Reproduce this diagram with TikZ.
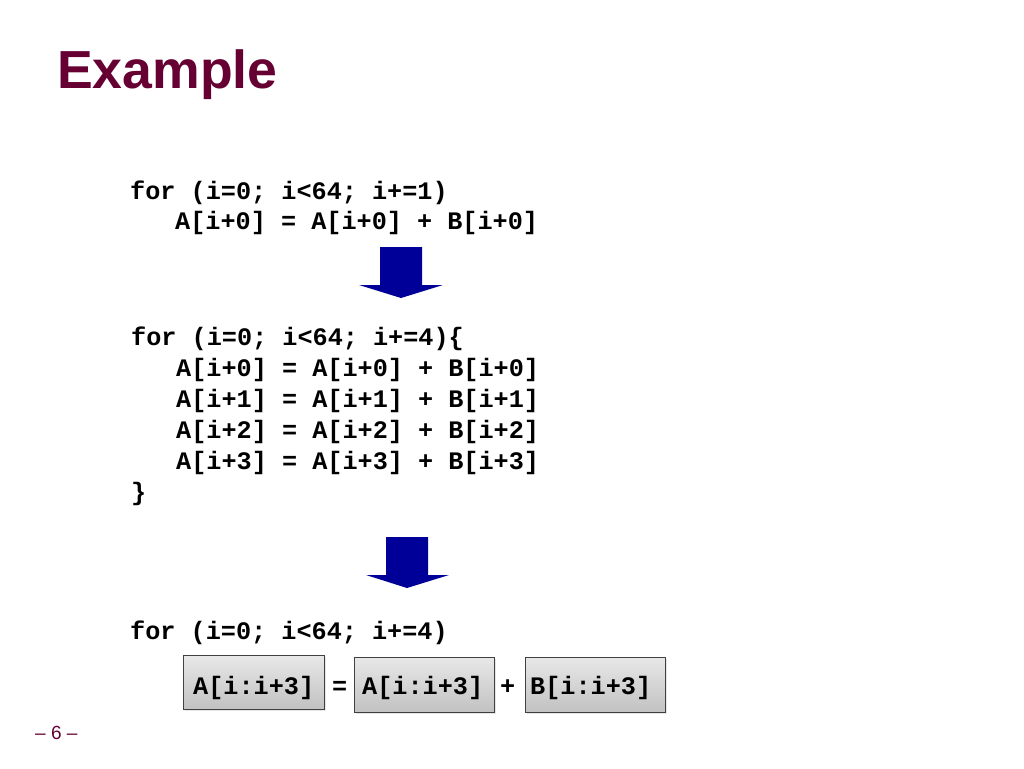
\documentclass[tikz,border=0pt]{standalone}
\usepackage{fontspec}
\setmainfont{Liberation Sans}
\newfontfamily\codefont{Liberation Mono}
\usetikzlibrary{shadows}
\definecolor{titlered}{RGB}{102,0,51}
\definecolor{arrowblue}{RGB}{0,0,153}
\tikzset{
  code/.style={anchor=base west, inner sep=0pt, font=\codefont\bfseries\fontsize{25.2}{25.2}\selectfont},
  vbox/.style={draw=black!75, line width=0.8pt, top color=black!9, bottom color=black!24, drop shadow={shadow xshift=2pt, shadow yshift=-2pt, opacity=0.2}},
  bigarrow/.style={fill=arrowblue, draw=none}
}
\begin{document}
\begin{tikzpicture}[x=1pt,y=-1pt]
\useasboundingbox (0,0) rectangle (1024,768);
\node[anchor=base west, inner sep=0pt, text=titlered, font=\bfseries\fontsize{53.6}{53.6}\selectfont] (title) at (57,88) {Example};

\node[code] (l1) at (130,199) {for (i=0; i<64; i+=1)};
\node[code] (l2) at (175,229) {A[i+0] = A[i+0] + B[i+0]};

\fill[bigarrow] (380,247) -- (422,247) -- (422,285) -- (443,285) -- (401,298) -- (359,285) -- (380,285) -- cycle;

\node[code] (m1) at (131,345) {for (i=0; i<64; i+=4)\{};
\node[code] (m2) at (176,376) {A[i+0] = A[i+0] + B[i+0]};
\node[code] (m3) at (176,407) {A[i+1] = A[i+1] + B[i+1]};
\node[code] (m4) at (176,438) {A[i+2] = A[i+2] + B[i+2]};
\node[code] (m5) at (176,469) {A[i+3] = A[i+3] + B[i+3]};
\node[code] (m6) at (131,500) {\}};

\fill[bigarrow] (386,537) -- (428,537) -- (428,575) -- (449,575) -- (407,588) -- (366,575) -- (386,575) -- cycle;

\node[code] (b1) at (130,639) {for (i=0; i<64; i+=4)};

\draw[vbox] (183,655) rectangle (324,709);
\draw[vbox] (354,657) rectangle (494,712);
\draw[vbox] (525,657) rectangle (665,712);
\node[code] (v1) at (193,694) {A[i:i+3]};
\node[code] (eq) at (332,694) {=};
\node[code] (v2) at (362,694) {A[i:i+3]};
\node[code] (pl) at (500,694) {+};
\node[code] (v3) at (530,694) {B[i:i+3]};

\node[anchor=base west, inner sep=0pt, text=titlered, font=\fontsize{19}{19}\selectfont] (pg) at (35,739) {– 6 –};
\end{tikzpicture}
\end{document}
